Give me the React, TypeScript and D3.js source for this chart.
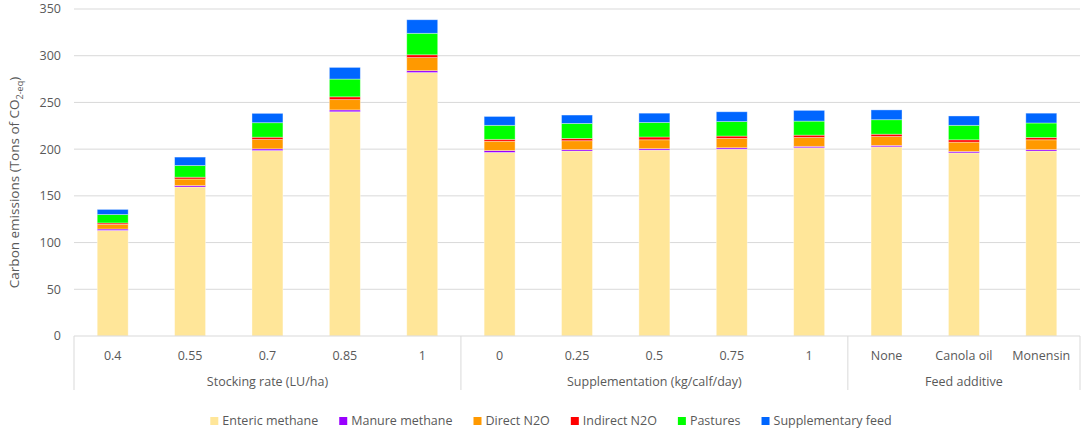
import React, { useRef, useEffect } from "react";
import * as d3 from "d3";

const categories = ["0.4", "0.55", "0.7", "0.85", "1", "0", "0.25", "0.5", "0.75", "1", "None", "Canola oil", "Monensin"];
const groups = [
  { label: "Stocking rate (LU/ha)", count: 5 },
  { label: "Supplementation (kg/calf/day)", count: 5 },
  { label: "Feed additive", count: 3 },
];

const entericMethane = [113, 159.5, 198.5, 240, 282, 196.5, 198, 199, 200, 201.5, 202.5, 196, 198];
const manureMethane = [1.5, 1.5, 1.8, 2, 2, 2, 1.5, 1.5, 1.5, 1.5, 1.5, 1.5, 1.5];
const directN2O = [5, 7, 10, 11, 14, 10, 9.5, 9.5, 10, 9.5, 9.5, 10, 10.5];
const indirectN2O = [1.5, 2, 2.5, 3, 3, 2, 2.5, 3, 2.5, 2.5, 2.5, 2.5, 2.5];
const pastures = [9, 12.5, 15.5, 19, 23, 15, 16, 15.5, 15.5, 15, 15.5, 15.5, 15.5];
const supplementaryFeed = [5.5, 9, 10, 12.5, 14.5, 9.5, 9, 10, 10.5, 11.5, 10.5, 10, 10.5];

const series = [
  { name: "Enteric methane", values: entericMethane, color: "#FFE699" },
  { name: "Manure methane", values: manureMethane, color: "#9900FF" },
  { name: "Direct N2O", values: directN2O, color: "#FF9900" },
  { name: "Indirect N2O", values: indirectN2O, color: "#FF0000" },
  { name: "Pastures", values: pastures, color: "#00FF00" },
  { name: "Supplementary feed", values: supplementaryFeed, color: "#0066FF" },
];

const yTicks = [0, 50, 100, 150, 200, 250, 300, 350];

const FONT = "'Open Sans', 'Noto Sans', sans-serif";
const TEXT_COLOR = "#595959";

export default function App() {
  const svgRef = useRef<SVGSVGElement>(null);

  useEffect(() => {
    if (!svgRef.current) return;
    document.body.style.margin = "0";
    const svg = d3.select(svgRef.current);
    svg.selectAll("*").remove();

    const width = 1084;
    const height = 430;
    const margin = { top: 9, right: 4, bottom: 94, left: 74 };
    const innerWidth = width - margin.left - margin.right;
    const innerHeight = height - margin.top - margin.bottom;

    const x = d3.scaleBand<number>()
      .domain(categories.map((_, i) => i))
      .range([0, innerWidth])
      .paddingInner(0.6)
      .paddingOuter(0.3);

    const y = d3.scaleLinear().domain([0, 350]).range([innerHeight, 0]);

    const g = svg.append("g").attr("transform", `translate(${margin.left},${margin.top})`);

    // gridlines
    g.selectAll("line.grid")
      .data(yTicks.filter(t => t > 0))
      .join("line")
      .attr("x1", 0)
      .attr("x2", innerWidth)
      .attr("y1", d => y(d))
      .attr("y2", d => y(d))
      .attr("stroke", "#D9D9D9")
      .attr("stroke-width", 1);

    // y tick labels
    g.selectAll("text.ytick")
      .data(yTicks)
      .join("text")
      .attr("x", -13)
      .attr("y", d => y(d))
      .attr("dy", "0.35em")
      .attr("text-anchor", "end")
      .style("font-family", FONT)
      .style("font-size", "12.5px")
      .style("fill", TEXT_COLOR)
      .text(d => d);

    // stacked bars
    const rows = categories.map((_, i) => {
      const row: Record<string, number> = { idx: i };
      series.forEach(s => (row[s.name] = s.values[i]));
      return row;
    });
    const stack = d3.stack<Record<string, number>>().keys(series.map(s => s.name));
    const stacked = stack(rows);

    stacked.forEach((layer, si) => {
      g.append("g")
        .selectAll("rect")
        .data(layer)
        .join("rect")
        .attr("x", (_, i) => x(i)!)
        .attr("width", x.bandwidth())
        .attr("y", d => y(d[1]))
        .attr("height", d => y(d[0]) - y(d[1]))
        .attr("fill", series[si].color)
        .attr("stroke", "#ffffff")
        .attr("stroke-opacity", 0.45)
        .attr("stroke-width", 0.8);
    });

    // category axis
    const axisColor = "#D9D9D9";
    const boxBottom = innerHeight + 54;
    g.append("line")
      .attr("x1", 0).attr("x2", innerWidth)
      .attr("y1", innerHeight).attr("y2", innerHeight)
      .attr("stroke", axisColor);

    let start = 0;
    const boundaries: number[] = [0];
    groups.forEach(gr => {
      start += gr.count;
      boundaries.push(start);
    });
    const step = x.step();
    const xEdge = (i: number) => (i === 0 ? 0 : i === categories.length ? innerWidth : x(i)! - (step - x.bandwidth()) / 2);

    g.selectAll("line.sep")
      .data(boundaries)
      .join("line")
      .attr("x1", d => xEdge(d)).attr("x2", d => xEdge(d))
      .attr("y1", innerHeight).attr("y2", boxBottom)
      .attr("stroke", axisColor);

    g.selectAll("text.cat")
      .data(categories)
      .join("text")
      .attr("x", (_, i) => x(i)! + x.bandwidth() / 2)
      .attr("y", innerHeight + 20)
      .attr("dy", "0.35em")
      .attr("text-anchor", "middle")
      .style("font-family", FONT)
      .style("font-size", "12.5px")
      .style("fill", TEXT_COLOR)
      .text(d => d);

    g.selectAll("text.group")
      .data(groups)
      .join("text")
      .attr("x", (_, i) => (xEdge(boundaries[i]) + xEdge(boundaries[i + 1])) / 2)
      .attr("y", innerHeight + 46)
      .attr("dy", "0.35em")
      .attr("text-anchor", "middle")
      .style("font-family", FONT)
      .style("font-size", "12.5px")
      .style("fill", TEXT_COLOR)
      .text(d => d.label);

    // y axis title
    const title = svg.append("text")
      .attr("transform", `translate(14,${margin.top + innerHeight / 2 + 10}) rotate(-90)`)
      .attr("text-anchor", "middle")
      .attr("dy", "0.35em")
      .style("font-family", FONT)
      .style("font-size", "13.5px")
      .style("fill", TEXT_COLOR);
    title.append("tspan").text("Carbon emissions (Tons of CO");
    title.append("tspan").attr("dy", "4").style("font-size", "9px").text("2-eq");
    title.append("tspan").attr("dy", "-4").text(")");

    // legend
    const legend = svg.append("g").attr("transform", `translate(0,${height - 9})`);
    const items = legend.selectAll("g")
      .data(series)
      .join("g");
    items.append("rect")
      .attr("width", 8).attr("height", 8)
      .attr("y", -4)
      .attr("fill", d => d.color);
    const texts = items.append("text")
      .attr("x", 12)
      .attr("dy", "0.35em")
      .style("font-family", FONT)
      .style("font-size", "12.5px")
      .style("fill", TEXT_COLOR)
      .text(d => d.name);
    const widths = texts.nodes().map(n => 12 + (n as SVGTextElement).getComputedTextLength());
    const gap = 21;
    const total = d3.sum(widths) + gap * (widths.length - 1);
    let cx = width / 2 + 9 - total / 2;
    items.attr("transform", (_, i) => {
      const t = `translate(${cx},0)`;
      cx += widths[i] + gap;
      return t;
    });
  }, []);

  return <svg ref={svgRef} width={1084} height={430} style={{ display: "block", background: "#fff" }} />;
}
